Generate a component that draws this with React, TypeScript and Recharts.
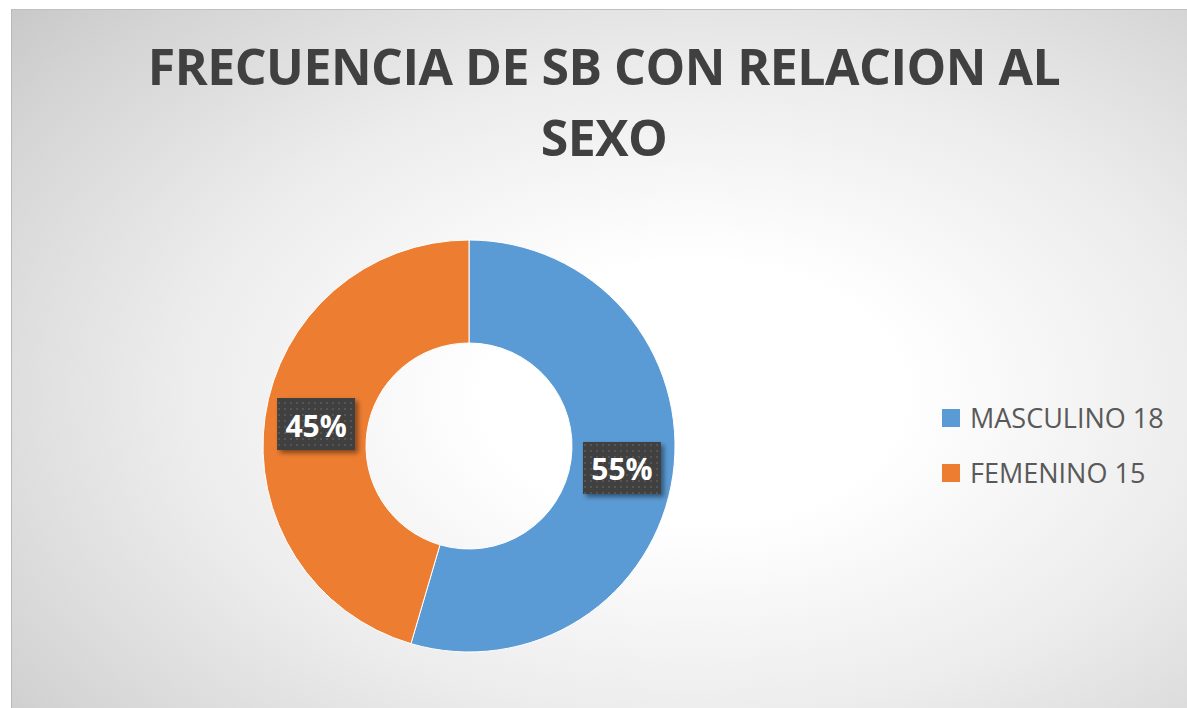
import React from "react";
import { PieChart, Pie, Cell, Legend } from "recharts";

const categories = ["MASCULINO", "FEMENINO"];
const values = [18, 15];
const colors = ["#5B9BD5", "#ED7D31"];
const titleLines = ["FRECUENCIA DE SB CON RELACION AL", "SEXO"];

const data = categories.map((c, i) => ({ name: c, value: values[i] }));

const RAD = Math.PI / 180;

const renderLabel = (props: any) => {
  const { cx, cy, midAngle, innerRadius, outerRadius, percent } = props;
  const r = (innerRadius + outerRadius) / 2;
  const x = cx + r * Math.cos(-midAngle * RAD);
  const y = cy + r * Math.sin(-midAngle * RAD);
  const w = 78;
  const h = 52;
  const txt = `${Math.round(percent * 100)}%`;
  return (
    <g>
      <rect x={x - w / 2} y={y - h / 2} width={w} height={h} fill="url(#dotPattern)" filter="url(#lblShadow)" />
      <text
        x={x}
        y={y + 1}
        textAnchor="middle"
        dominantBaseline="central"
        fill="#ffffff"
        fontFamily="'Open Sans', sans-serif"
        fontWeight={700}
        fontSize={30}
      >
        {txt}
      </text>
    </g>
  );
};

const renderLegend = (props: any) => {
  const payload = [...(props.payload || [])].sort(
    (a: any, b: any) => categories.indexOf(a.value) - categories.indexOf(b.value)
  );
  return (
    <div style={{ display: "flex", flexDirection: "column" }}>
      {payload.map((p: any, i: number) => (
        <div key={i} style={{ display: "flex", alignItems: "center", height: 55 }}>
          <div style={{ width: 18, height: 18, background: p.color, marginRight: 10 }} />
          <span
            style={{
              fontFamily: "'Open Sans', sans-serif",
              fontSize: 27,
              color: "#595959",
              whiteSpace: "nowrap",
            }}
          >
            {`${p.value} ${values[categories.indexOf(p.value)]}`}
          </span>
        </div>
      ))}
    </div>
  );
};

export default function App() {
  return (
    <div style={{ position: "absolute", left: 0, top: 0, width: 1187, height: 708, background: "#ffffff", overflow: "hidden" }}>
      <div
        style={{
          position: "absolute",
          left: 11,
          top: 9,
          width: 1176,
          height: 699,
          background:
            "radial-gradient(ellipse 80% 85% at 58% 55%, #ffffff 0%, #ffffff 22%, #ececec 55%, #d4d4d4 85%, #c6c6c6 100%)",
          borderLeft: "1px solid #b8b8b8",
          borderTop: "1px solid #c0c0c0",
          boxSizing: "border-box",
        }}
      >
        <svg width={1176} height={180} style={{ position: "absolute", left: 0, top: 0 }}>
          {titleLines.map((t, i) => (
            <text
              key={i}
              x={604 - 12}
              y={85 - 10 + i * 71}
              textAnchor="middle"
              fill="#404040"
              fontFamily="'Open Sans', sans-serif"
              fontWeight={700}
              fontSize={50}
              letterSpacing={-0.5}
            >
              {t}
            </text>
          ))}
        </svg>
        <div style={{ position: "absolute", left: 0, top: 0 }}>
          <PieChart width={1175} height={698} margin={{ top: 0, right: 0, bottom: 0, left: 0 }}>
            <defs>
              <pattern id="dotPattern" x="0" y="0" width="6" height="6" patternUnits="userSpaceOnUse">
                <rect x="0" y="0" width="6" height="6" fill="#404040" />
                <rect x="2" y="2" width="2" height="2" fill="#555555" />
              </pattern>
              <filter id="lblShadow" x="-20%" y="-20%" width="150%" height="150%">
                <feDropShadow dx="3" dy="3" stdDeviation="2.5" floodColor="#000" floodOpacity="0.45" />
              </filter>
            </defs>
            <Pie
              data={data}
              dataKey="value"
              nameKey="name"
              cx={457}
              cy={436}
              innerRadius={103}
              outerRadius={206}
              startAngle={90}
              endAngle={-270}
              stroke="#ffffff"
              strokeWidth={1}
              label={renderLabel}
              labelLine={false}
              isAnimationActive={false}
            >
              {data.map((d, i) => (
                <Cell key={d.name} fill={colors[i]} />
              ))}
            </Pie>
            <Legend
              content={renderLegend}
              layout="vertical"
              wrapperStyle={{ position: "absolute", left: 930, top: 380, width: 240 }}
            />
          </PieChart>
        </div>
      </div>
    </div>
  );
}
